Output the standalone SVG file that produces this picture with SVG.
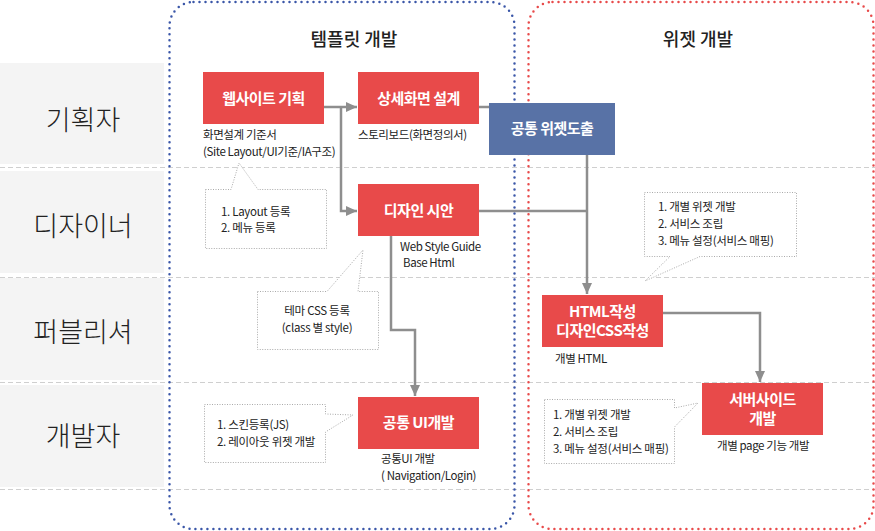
<svg xmlns="http://www.w3.org/2000/svg" width="875" height="531" viewBox="0 0 875 531">
<style>
text{font-family:"Noto Sans CJK KR","Noto Sans",sans-serif}
.lane{fill:#f4f4f4}
.row{font-size:27px;font-weight:300;fill:#222;text-anchor:middle}
.sep{stroke:#cfcfcf;stroke-width:1;stroke-dasharray:5 3;fill:none}
.hdr{font-size:18px;font-weight:500;fill:#222;text-anchor:middle}
.box{fill:#e84a4a}
.bbox{fill:#5872a6}
.bt{font-size:15px;font-weight:700;fill:#fff;text-anchor:middle;letter-spacing:-0.5px}
.sub{font-size:11.5px;fill:#222;letter-spacing:-0.4px}
.co{fill:#fff;stroke:#aaa;stroke-width:1;stroke-dasharray:1 1.5}
.ct{font-size:11.5px;fill:#222;letter-spacing:-0.3px}
.con{fill:none;stroke:#8e8e8e;stroke-width:2.5}
</style>
<defs>
<marker id="ah" markerUnits="userSpaceOnUse" markerWidth="12" markerHeight="12" viewBox="0 0 12 12" refX="11" refY="6" orient="auto">
<path d="M0,1 L11,6 L0,11 Z" fill="#8e8e8e"/>
</marker>
</defs>

<g id="lanes">
<rect class="lane" x="0" y="63" width="164" height="101"/>
<rect class="lane" x="0" y="171" width="164" height="102"/>
<rect class="lane" x="0" y="278" width="164" height="102"/>
<rect class="lane" x="0" y="385" width="164" height="102"/>
<line class="sep" x1="0" y1="167.5" x2="875" y2="167.5"/>
<line class="sep" x1="0" y1="277.5" x2="875" y2="277.5"/>
<line class="sep" x1="0" y1="382.5" x2="875" y2="382.5"/>
<line class="sep" x1="0" y1="489.5" x2="875" y2="489.5"/>
<text class="row" x="83" y="130">기획자</text>
<text class="row" x="83" y="236">디자이너</text>
<text class="row" x="83" y="342">퍼블리셔</text>
<text class="row" x="83" y="446">개발자</text>
</g>

<g id="group-template">
<rect x="169.5" y="2" width="345" height="527" rx="24" fill="none" stroke="#3a56a8" stroke-width="2.5" stroke-linecap="round" stroke-dasharray="0 6"/>
<text class="hdr" x="354" y="46">템플릿 개발</text>
</g>
<g id="group-widget">
<rect x="528.5" y="2" width="345" height="527" rx="24" fill="none" stroke="#e84a4a" stroke-width="2.5" stroke-linecap="round" stroke-dasharray="0 6"/>
<text class="hdr" x="698" y="46">위젯 개발</text>
</g>

<g id="connectors">
<path class="con" d="M324,107 H357" marker-end="url(#ah)"/>
<path class="con" d="M341,107 V211 H357" marker-end="url(#ah)"/>
<path class="con" d="M479,107 H489"/>
<path class="con" d="M479,211 H587"/>
<path class="con" d="M587,155 V294" marker-end="url(#ah)"/>
<path class="con" d="M391,236 V330 H415 V396" marker-end="url(#ah)"/>
<path class="con" d="M663,313 H760 V382" marker-end="url(#ah)"/>
</g>

<g id="n-website">
<rect class="box" x="203" y="72" width="121" height="52"/>
<text class="bt" x="263.5" y="104">웹사이트 기획</text>
<text class="sub" x="203" y="139">화면설계 기준서</text>
<text class="sub" x="203" y="156">(Site Layout/UI기준/IA구조)</text>
</g>
<g id="n-detail">
<rect class="box" x="358" y="72" width="121" height="52"/>
<text class="bt" x="418.5" y="104">상세화면 설계</text>
<text class="sub" x="358" y="139">스토리보드(화면정의서)</text>
</g>
<g id="n-design">
<rect class="box" x="358" y="184" width="121" height="52"/>
<text class="bt" x="418.5" y="216">디자인 시안</text>
<text class="sub" x="400" y="251">Web Style Guide</text>
<text class="sub" x="403" y="267">Base Html</text>
</g>
<g id="n-widget">
<rect class="bbox" x="489" y="103" width="126" height="52"/>
<text class="bt" x="552" y="134">공통 위젯도출</text>
</g>
<g id="n-html">
<rect class="box" x="542" y="295" width="121" height="52"/>
<text class="bt" x="602.5" y="317">HTML작성</text>
<text class="bt" x="602.5" y="336">디자인CSS작성</text>
<text class="sub" x="555" y="363">개별 HTML</text>
</g>
<g id="n-server">
<rect class="box" x="702" y="383" width="121" height="52"/>
<text class="bt" x="762.5" y="405">서버사이드</text>
<text class="bt" x="762.5" y="424">개발</text>
<text class="sub" x="717" y="450">개별 page 기능 개발</text>
</g>
<g id="n-commonui">
<rect class="box" x="358" y="397" width="121" height="52"/>
<text class="bt" x="418.5" y="428">공통 UI개발</text>
<text class="sub" x="381" y="463">공통UI 개발</text>
<text class="sub" x="381" y="480">( Navigation/Login)</text>
</g>

<g id="c-layout">
<path class="co" d="M205.5,189.5 H231 L239,163 L258,189.5 H326.5 V248.5 H205.5 Z"/>
<text class="ct" x="221" y="216">1. Layout 등록</text>
<text class="ct" x="221" y="232">2. 메뉴 등록</text>
</g>
<g id="c-theme">
<path class="co" d="M257.5,291.5 H327 L363,250 L358,291.5 H378.5 V349.5 H257.5 Z"/>
<text class="ct" x="317" y="315" text-anchor="middle">테마 CSS 등록</text>
<text class="ct" x="317" y="332" text-anchor="middle">(class 별 style)</text>
</g>
<g id="c-widget">
<path class="co" d="M644.5,192.5 H796.5 V256.5 H700 L645,281 L670,256.5 H644.5 Z"/>
<text class="ct" x="658" y="211">1. 개별 위젯 개발</text>
<text class="ct" x="658" y="228">2. 서비스 조립</text>
<text class="ct" x="658" y="245">3. 메뉴 설정(서비스 매핑)</text>
</g>
<g id="c-server">
<path class="co" d="M544.5,399.5 H674.5 V408 L698,403 L674.5,427 V463.5 H544.5 Z"/>
<text class="ct" x="553" y="419">1. 개별 위젯 개발</text>
<text class="ct" x="553" y="436">2. 서비스 조립</text>
<text class="ct" x="553" y="453">3. 메뉴 설정(서비스 매핑)</text>
</g>
<g id="c-skin">
<path class="co" d="M204.5,404.5 H325.5 V414 L353,415 L325.5,432 V462.5 H204.5 Z"/>
<text class="ct" x="217" y="429">1. 스킨등록(JS)</text>
<text class="ct" x="217" y="446">2. 레이아웃 위젯 개발</text>
</g>
</svg>
